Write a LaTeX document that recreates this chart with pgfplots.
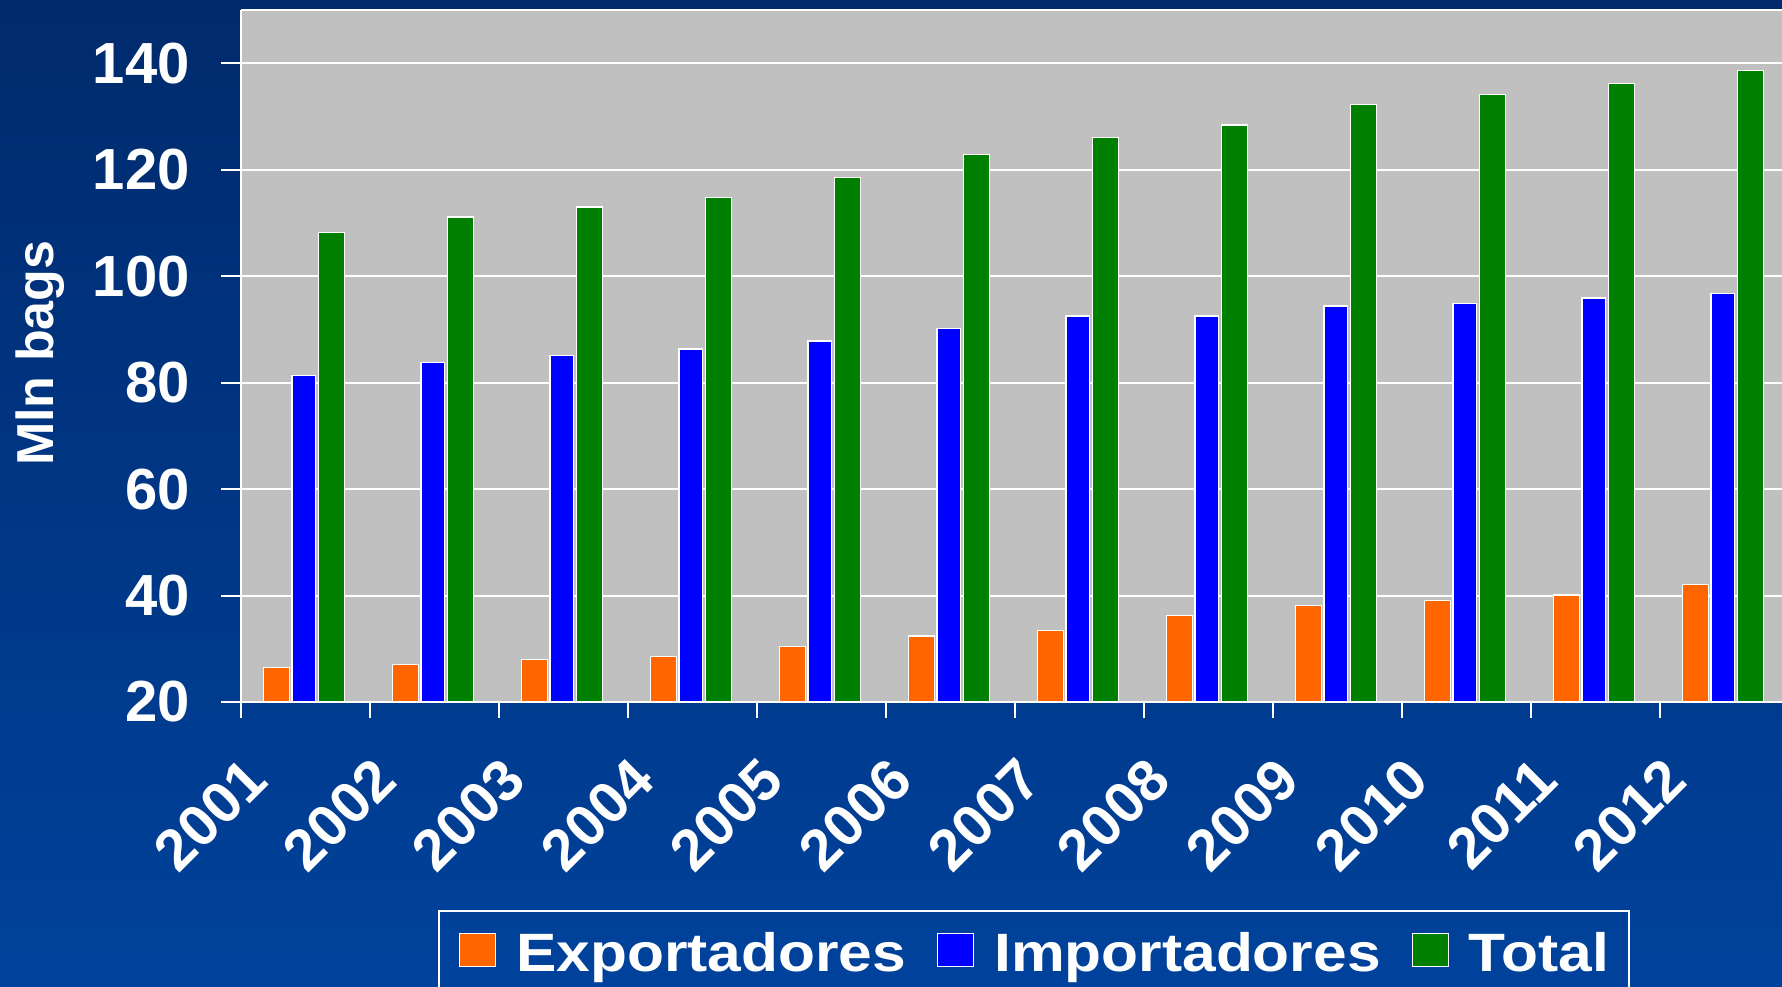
\documentclass[border=0pt]{standalone}
\usepackage{fontspec}
\setmainfont{Liberation Sans}
\usepackage{graphicx}
\usepackage{pgfplots}
\pgfplotsset{compat=1.18}
\definecolor{bgtop}{RGB}{0,42,108}
\definecolor{bgmid}{RGB}{0,58,140}
\definecolor{bgbot}{RGB}{0,66,156}
\definecolor{plotgray}{RGB}{192,192,192}
\definecolor{cexp}{RGB}{255,102,0}
\definecolor{cimp}{RGB}{0,0,255}
\definecolor{ctot}{RGB}{0,128,0}
\newcommand\hs[1]{\scalebox{1.12}[1]{#1}}
\begin{document}
\begin{tikzpicture}
\useasboundingbox (0,0) rectangle (891pt,493pt);
\shade[top color=bgtop, middle color=bgmid, bottom color=bgbot] (0,0) rectangle (891pt,493pt);
\begin{axis}[
  at={(120.5pt,142pt)}, anchor=south west, scale only axis,
  width=770.5pt, height=346pt,
  xmin=0, xmax=11.946, ymin=20, ymax=150,
  separate axis lines,
  axis x line*=box, axis y line*=left,
  axis line style={white, line width=1pt},
  axis background/.style={fill=plotgray},
  ymajorgrids, grid style={white, line width=1pt},
  ytick={20,40,...,140},
  xtick={0.5,1.5,...,11.5},
  xticklabels={2001,2002,2003,2004,2005,2006,2007,2008,2009,2010,2011,2012},
  minor xtick={0,1,...,11},
  tick align=outside,
  xtick pos=bottom, ytick pos=left,
  major tick length=10pt, minor tick length=8pt,
  every major x tick/.style={draw=none},
  every minor x tick/.style={white, line width=1pt},
  every major y tick/.style={white, line width=1pt},
  /pgf/number format/assume math mode=true,
  yticklabel style={font=\fontsize{29}{29}\selectfont\bfseries, text=white, inner sep=0pt, xshift=-15.5pt},
  xticklabel style={font=\fontsize{29}{29}\selectfont\bfseries, text=white, inner sep=0pt, xshift=-32pt, yshift=-16pt, rotate=45, anchor=north east},
  ylabel={Mln bags},
  ylabel style={at={(axis description cs:-0.1304,0.504)}, anchor=center, font=\fontsize{26}{26}\selectfont\bfseries, text=white},
  legend columns=3,
  legend style={at={(axis description cs:0.1278,-0.3006)}, anchor=north west, draw=white, line width=1pt, fill=none, text=white,
    font=\fontsize{27}{27}\selectfont\bfseries, inner xsep=10pt, inner ysep=10.6pt, nodes={inner sep=0pt},
    /tikz/every odd column/.append style={column sep=10pt},
    /tikz/every even column/.append style={column sep=15.5pt}},
  mybar/.style={ybar, draw=white, line width=0.6pt,
    legend image code/.code={\draw[##1, line width=0.6pt] (0pt,-6.8pt) rectangle (18pt,9.7pt);}},
]
\addplot[mybar, bar width=0.2, bar shift=-0.226, fill=cexp] coordinates {
(0.5,26.5) (1.5,27.0) (2.5,28.0) (3.5,28.6) (4.5,30.5) (5.5,32.4) (6.5,33.5) (7.5,36.3) (8.5,38.2) (9.5,39.0) (10.5,40.1) (11.5,42.0)};
\addlegendentry{\hs{Exportadores}}
\addplot[mybar, bar width=0.18, bar shift=-0.014, fill=cimp] coordinates {
(0.5,81.3) (1.5,83.8) (2.5,85.1) (3.5,86.3) (4.5,87.8) (5.5,90.2) (6.5,92.5) (7.5,92.5) (8.5,94.4) (9.5,94.9) (10.5,95.9) (11.5,96.8)};
\addlegendentry{\hs{Importadores}}
\addplot[mybar, bar width=0.2, bar shift=0.2, fill=ctot] coordinates {
(0.5,108.2) (1.5,111.1) (2.5,113.0) (3.5,114.8) (4.5,118.6) (5.5,122.9) (6.5,126.1) (7.5,128.4) (8.5,132.3) (9.5,134.2) (10.5,136.2) (11.5,138.7)};
\addlegendentry{\hs{Total}}
\end{axis}
\end{tikzpicture}
\end{document}
